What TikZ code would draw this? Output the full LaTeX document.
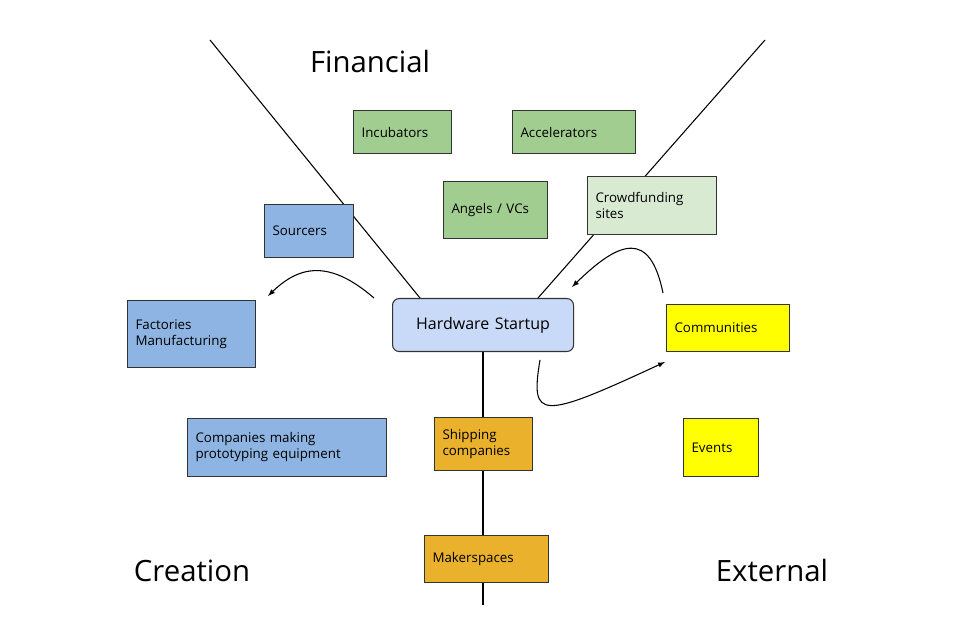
\documentclass[tikz,border=0pt]{standalone}
\usepackage{fontspec}
\setmainfont{Open Sans}
\begin{document}
\begin{tikzpicture}[x=0.75pt,y=-0.75pt,
  box/.style={draw=black!80, line width=0.8pt, anchor=north west, inner xsep=6pt, align=left, font=\fontsize{10}{12}\selectfont},
  title/.style={font=\fontsize{22}{26}\selectfont},
  arr/.style={-latex, line width=0.8pt}]
\useasboundingbox (0,0) rectangle (976,620);
\definecolor{g1}{HTML}{A2CD90}
\definecolor{g2}{HTML}{D9EAD3}
\definecolor{bl}{HTML}{8DB4E2}
\definecolor{hw}{HTML}{C9DAF8}
\definecolor{ye}{HTML}{FFFF00}
\definecolor{or}{HTML}{E9B12C}
\coordinate (l1) at (210,40);
\coordinate (l2) at (420,298);
\coordinate (r1) at (765,40);
\coordinate (r2) at (538,298);
\coordinate (v1) at (483,351);
\coordinate (v2) at (483,605);
\draw[line width=0.8pt] (l1) -- (l2);
\draw[line width=0.8pt] (r1) -- (r2);
\draw[line width=0.8pt] (v1) -- (v2);
\node[title] (fin) at (370,62) {Financial};
\node[title] (cre) at (192,571) {Creation};
\node[title] (ext) at (772,571) {External};
\node[box, fill=g1, minimum width=73.5pt, minimum height=32.25pt, text width=61.5pt] (inc) at (353,110) {Incubators};
\node[box, fill=g1, minimum width=92.25pt, minimum height=32.25pt, text width=80.25pt] (acc) at (512,110) {Accelerators};
\node[box, fill=g1, minimum width=78pt, minimum height=42.75pt, text width=66pt] (ang) at (443,181) {Angels / VCs};
\node[box, fill=g2, minimum width=96.75pt, minimum height=43.5pt, text width=84.75pt] (cro) at (587,176) {Crowdfunding\\sites};
\node[box, fill=bl, minimum width=66.75pt, minimum height=39.75pt, text width=54.75pt] (sou) at (264,204) {Sourcers};
\node[box, fill=bl, minimum width=96pt, minimum height=50.25pt, text width=84pt] (fac) at (127,300) {Factories\\Manufacturing};
\node[box, fill=bl, minimum width=149.25pt, minimum height=43.5pt, text width=137.25pt] (com) at (187,418) {Companies making\\prototyping equipment};
\node[box, fill=hw, rounded corners=5pt, align=center, minimum width=135.75pt, minimum height=39.75pt, text width=123.75pt, font=\fontsize{12}{14}\selectfont] (hw) at (392,298) {Hardware Startup};
\node[box, fill=ye, minimum width=92.25pt, minimum height=35.25pt, text width=80.25pt] (cmm) at (666,304) {Communities};
\node[box, fill=ye, minimum width=56.25pt, minimum height=43.5pt, text width=44.25pt] (evt) at (683,418) {Events};
\node[box, fill=or, minimum width=73.5pt, minimum height=39.75pt, text width=61.5pt] (shp) at (434,417) {Shipping\\companies};
\node[box, fill=or, minimum width=93pt, minimum height=35.25pt, text width=81pt] (mak) at (424,535) {Makerspaces};
\coordinate (a1s) at (374,298);
\coordinate (a1e) at (268,296);
\draw[arr] (a1s) .. controls (330,260) and (300,265) .. (a1e);
\coordinate (a2s) at (663,293);
\coordinate (a2e) at (572,287);
\draw[arr] (a2s) .. controls (650,230) and (620,240) .. (a2e);
\coordinate (a3s) at (540,360);
\coordinate (a3e) at (665,362);
\draw[arr] (a3s) .. controls (530,420) and (540,420) .. (a3e);
\end{tikzpicture}
\end{document}
